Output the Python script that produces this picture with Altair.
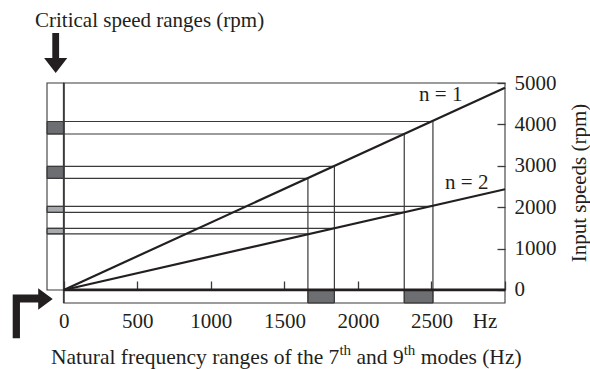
import altair as alt
import pandas as pd

# Natural frequency bands (Hz) of the 7th and 9th modes
modes = ["7th", "9th"]
freq_low = [1660, 2315]
freq_high = [1840, 2510]

# Critical speed bands (rpm) where each order line crosses a frequency band
orders = ["n = 1", "n = 2"]
speed_low = {"n = 1": [2695, 3768], "n = 2": [1355, 1874]}
speed_high = {"n = 1": [2985, 4070], "n = 2": [1490, 2019]}

# Order lines run from the origin to the right edge
line_end_hz = 3000
line_end_rpm = [4886, 2434]

# Label anchors for the order lines (data units)
order_label_hz = [2563, 2740]
order_label_rpm = [4717, 2592]

x_ticks = [0, 500, 1000, 1500, 2000, 2500, 3000]
y_ticks = [0, 1000, 2000, 3000, 4000, 5000]

HZ_MIN, HZ_MAX = -114, 3000
RPM_MIN, RPM_MAX = -315, 5000

FONT = "Liberation Serif"
INK = "#231f20"
EDGE = "#3a3a3a"
DARK = "#6d6e71"
LIGHT = "#a7a9ac"

# ---- tables built from the arrays above ----
strip_boxes = pd.DataFrame([
    {"hz": HZ_MIN, "hz2": 0, "rpm": speed_low[o][i], "rpm2": speed_high[o][i], "order": o}
    for o in orders for i in range(len(modes))
])
band_boxes = pd.DataFrame([
    {"hz": freq_low[i], "hz2": freq_high[i], "rpm": RPM_MIN, "rpm2": 0, "mode": modes[i]}
    for i in range(len(modes))
])
h_lines = pd.DataFrame(
    [{"hz": HZ_MIN, "hz2": freq_low[i], "rpm": speed_low[o][i]} for o in orders for i in range(len(modes))]
    + [{"hz": HZ_MIN, "hz2": freq_high[i], "rpm": speed_high[o][i]} for o in orders for i in range(len(modes))]
)
v_lines = pd.DataFrame(
    [{"hz": freq_low[i], "rpm": RPM_MIN, "rpm2": speed_low["n = 1"][i]} for i in range(len(modes))]
    + [{"hz": freq_high[i], "rpm": RPM_MIN, "rpm2": speed_high["n = 1"][i]} for i in range(len(modes))]
)
order_lines = pd.DataFrame(
    [{"order": o, "hz": 0, "rpm": 0} for o in orders]
    + [{"order": o, "hz": line_end_hz, "rpm": r} for o, r in zip(orders, line_end_rpm)]
)
order_labels = pd.DataFrame({"order": orders, "hz": order_label_hz, "rpm": order_label_rpm})
panels = pd.DataFrame([
    {"hz": 0, "hz2": HZ_MAX, "rpm": 0, "rpm2": RPM_MAX},
    {"hz": HZ_MIN, "hz2": 0, "rpm": 0, "rpm2": RPM_MAX},
    {"hz": 0, "hz2": HZ_MAX, "rpm": RPM_MIN, "rpm2": 0},
])
zero_hz = pd.DataFrame({"hz": [0], "rpm": [RPM_MIN], "rpm2": [RPM_MAX]})
zero_rpm = pd.DataFrame({"hz": [0], "hz2": [HZ_MAX], "rpm": [0]})
one = pd.DataFrame({"k": [0]})

xs = alt.Scale(domain=[HZ_MIN, HZ_MAX], nice=False, zero=False)
ys = alt.Scale(domain=[RPM_MIN, RPM_MAX], nice=False, zero=False)

x_axis = alt.Axis(
    orient="bottom", values=x_ticks, format="d",
    labelExpr="datum.value >= 3000 ? '' : datum.label",
    offset=-22, tickSize=9, tickColor=EDGE, tickWidth=1.3,
    domain=False, grid=False, labelFont=FONT, labelFontSize=21,
    labelColor=INK, labelPadding=20, labelFlush=False, labelOverlap=False,
    title=None,
)
y_axis = alt.Axis(
    orient="right", values=y_ticks, format="d",
    offset=-8, tickSize=8, tickColor=EDGE, tickWidth=1.3,
    domain=False, grid=False, labelFont=FONT, labelFontSize=21,
    labelColor=INK, labelPadding=9, labelFlush=False, labelOverlap=False,
    title=None,
)

# Every layer carries the same axis definition so the shared axes merge cleanly
X = lambda: alt.X("hz:Q", scale=xs, axis=x_axis)
Y = lambda: alt.Y("rpm:Q", scale=ys, axis=y_axis)

order_color = alt.Color("order:N", scale=alt.Scale(domain=orders, range=[DARK, LIGHT]), legend=None)

strip_layer = alt.Chart(strip_boxes).mark_rect(stroke=EDGE, strokeWidth=1).encode(
    x=X(), x2="hz2:Q", y=Y(), y2="rpm2:Q", color=order_color
)
band_layer = alt.Chart(band_boxes).mark_rect(color=DARK, stroke=EDGE, strokeWidth=1).encode(
    x=X(), x2="hz2:Q", y=Y(), y2="rpm2:Q"
)
panel_layer = alt.Chart(panels).mark_rect(fillOpacity=0, stroke=EDGE, strokeWidth=1.1).encode(
    x=X(), x2="hz2:Q", y=Y(), y2="rpm2:Q"
)
h_layer = alt.Chart(h_lines).mark_rule(color=EDGE, strokeWidth=1.2).encode(
    x=X(), x2="hz2:Q", y=Y()
)
v_layer = alt.Chart(v_lines).mark_rule(color=EDGE, strokeWidth=1.2).encode(
    x=X(), y=Y(), y2="rpm2:Q"
)
zero_hz_layer = alt.Chart(zero_hz).mark_rule(color=EDGE, strokeWidth=1.8).encode(
    x=X(), y=Y(), y2="rpm2:Q"
)
zero_rpm_layer = alt.Chart(zero_rpm).mark_rule(color=INK, strokeWidth=2.8).encode(
    x=X(), x2="hz2:Q", y=Y()
)
line_layer = alt.Chart(order_lines).mark_line(color=INK, strokeWidth=2.2).encode(
    x=X(), y=Y(), detail="order:N"
)
label_layer = alt.Chart(order_labels).mark_text(
    font=FONT, fontSize=21, color=INK, align="center", baseline="middle"
).encode(x=X(), y=Y(), text="order:N")


def note(text, x, y, size=21, align="left", baseline="alphabetic", angle=0):
    return alt.Chart(one).mark_text(
        text=text, font=FONT, fontSize=size, color=INK,
        align=align, baseline=baseline, angle=angle,
    ).encode(x=alt.value(x), y=alt.value(y))


# Titles and unit marker; the frequency title is set piecewise for its superscripts
texts = [
    note("Critical speed ranges (rpm)", -12, -56),
    note("Hz", 438, 244.5, align="center"),
    note("Input speeds (rpm)", 533, 100, align="center", baseline="middle", angle=270),
    note("Natural frequency ranges of the 7", 4, 281, size=21.5),
    note("th", 292.4, 272, size=15),
    note("and 9", 309.5, 281, size=21.5),
    note("th", 356.7, 272, size=15),
    note("modes (Hz)", 373.7, 281, size=21.5),
]

# Pointer arrows toward the two range strips
down_arrow = "M-0.17,-1 L0.17,-1 L0.17,0.26 L0.58,0.26 L0,1 L-0.58,0.26 L-0.17,0.26 Z"
bent_arrow = "M-0.8,1 L-0.8,-0.75 L0.22,-0.75 L0.22,-1 L0.8,-0.57 L0.22,-0.14 L0.22,-0.43 L-0.51,-0.43 L-0.51,1 Z"
arrows = [
    alt.Chart(one).mark_point(shape=down_arrow, size=1600, filled=True, fill=INK, opacity=1, strokeWidth=0)
    .encode(x=alt.value(8.7), y=alt.value(-30.1)),
    alt.Chart(one).mark_point(shape=bent_arrow, size=2500, filled=True, fill=INK, opacity=1, strokeWidth=0)
    .encode(x=alt.value(-14.3), y=alt.value(230.3)),
]

chart = alt.layer(
    strip_layer, band_layer, h_layer, v_layer, panel_layer,
    zero_hz_layer, zero_rpm_layer, line_layer,
    label_layer, *texts, *arrows,
).properties(
    width=458, height=220,
    padding={"left": 47, "top": 83, "right": 85, "bottom": 66},
    autosize=alt.AutoSizeParams(type="none"),
    background="white",
).configure_view(strokeWidth=0)

chart.save("out.html", embed_options={"renderer": "svg", "actions": False})
